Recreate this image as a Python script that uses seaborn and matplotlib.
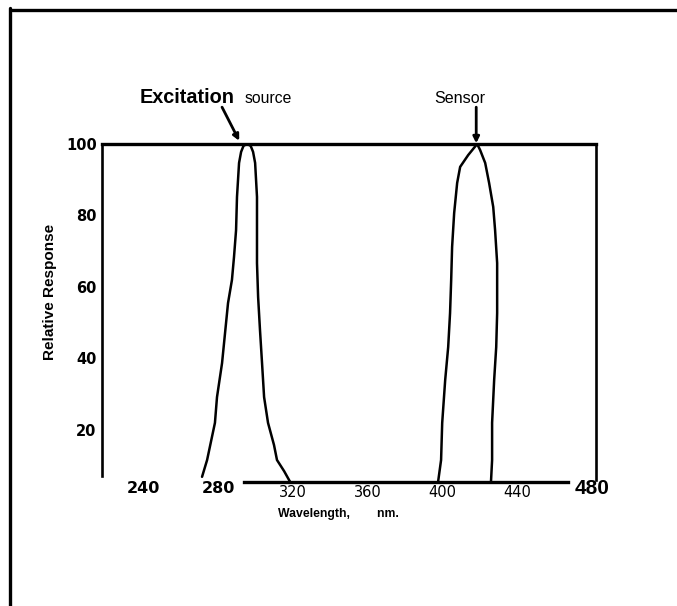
import matplotlib
matplotlib.use("Agg")
import matplotlib.pyplot as plt
from matplotlib.lines import Line2D
import seaborn as sns
import pandas as pd

# ---- data ----
exc_wavelength = [271.3, 274.0, 278.2, 279.3, 282.0, 285.2, 287.3, 288.4, 289.5, 290.0,
                  291.1, 292.2, 293.5, 295.4, 297.3, 298.6, 299.7, 300.7, 300.7, 301.3,
                  302.3, 303.4, 304.5, 306.6, 309.8, 311.4, 315.2, 318.4]
exc_response = [6.9, 11.6, 22.0, 29.2, 38.7, 55.5, 62.0, 68.4, 75.9, 85.2,
                94.7, 97.8, 99.5, 100.0, 99.5, 97.8, 94.7, 85.2, 66.7, 57.2,
                48.0, 38.7, 29.2, 22.0, 15.8, 11.6, 8.5, 5.5]

sens_wavelength = [397.6, 399.2, 399.8, 401.4, 403.0, 404.0, 404.6, 405.1, 406.2, 407.8,
                   409.4, 413.7, 418.5, 420.1, 422.8, 424.9, 427.1, 428.1, 429.2, 429.2,
                   428.7, 427.6, 426.5, 426.5, 425.9]
sens_response = [5.5, 11.6, 22.0, 34.0, 43.2, 52.7, 61.9, 71.2, 80.7, 89.1,
                 93.6, 96.9, 100.0, 98.3, 94.7, 89.1, 82.4, 75.9, 66.7, 52.7,
                 43.2, 34.0, 22.0, 11.6, 5.5]

x_ticks = [240, 280, 320, 360, 400, 440, 480]
x_tick_labels = ["240", "280", "320", "360", "400", "440", "480"]
y_ticks = [20, 40, 60, 80, 100]
y_tick_labels = ["20", "40", "60", "80", "100"]

exc_label = "Excitation"
exc_label2 = "source"
sens_label = "Sensor"
x_title = "Wavelength,        nm."
y_title = "Relative Response"

# ---- figure ----
sns.set_theme(style="white")
plt.rcParams["font.family"] = ["DejaVu Sans"]

fig = plt.figure(figsize=(6.77, 6.06), dpi=100)
ax = fig.add_axes([101.5 / 677, (606 - 482) / 606, 494.7 / 677, 338 / 606])

df_exc = pd.DataFrame({"wavelength": exc_wavelength, "response": exc_response})
df_sens = pd.DataFrame({"wavelength": sens_wavelength, "response": sens_response})

sns.lineplot(data=df_exc, x="wavelength", y="response", sort=False, estimator=None,
             color="black", lw=1.8, ax=ax)
sns.lineplot(data=df_sens, x="wavelength", y="response", sort=False, estimator=None,
             color="black", lw=1.8, ax=ax)

ax.set_xlim(217.5, 482.2)
ax.set_ylim(5.45, 100)

# spines like the hand-drawn frame
for side in ["top", "bottom", "left", "right"]:
    ax.spines[side].set_visible(True)
    ax.spines[side].set_color("black")
ax.spines["top"].set_linewidth(2.4)
ax.spines["left"].set_linewidth(1.9)
ax.spines["right"].set_linewidth(1.9)
ax.spines["bottom"].set_linewidth(2.4)
ax.spines["left"].set_bounds(7, 100)
ax.spines["right"].set_bounds(6, 100)
ax.spines["bottom"].set_bounds(294, 467)

# ticks
ax.set_xticks(x_ticks)
ax.set_xticklabels(x_tick_labels)
ax.set_yticks(y_ticks)
ax.set_yticklabels(y_tick_labels)
ax.tick_params(axis="x", direction="in", length=3.5, width=2, color="black", pad=2.5)
ax.tick_params(axis="y", direction="in", length=3, width=1.6, color="black", pad=3.5)

xt = ax.xaxis.get_major_ticks()
for tk, val in zip(xt, x_ticks):
    lab = tk.label1
    if val in (240, 280):
        lab.set_fontsize(11.5); lab.set_fontweight("bold")
        lab.set_fontfamily(["DejaVu Sans"])
        tk.tick1line.set_visible(False)
        tk.set_pad(-1)
    elif val == 480:
        lab.set_fontsize(15); lab.set_fontweight("bold")
        lab.set_fontfamily(["Liberation Sans", "DejaVu Sans"])
        tk.tick1line.set_visible(False)
        tk.set_pad(-2.5)
    else:
        lab.set_fontsize(10.5); lab.set_fontweight("normal")
        lab.set_fontfamily(["DejaVu Sans"])
    lab.set_color("black")

yt = ax.yaxis.get_major_ticks()
for tk, val in zip(yt, y_ticks):
    tk.label1.set_fontsize(10.5)
    tk.label1.set_fontweight("bold")
    tk.label1.set_color("black")
    if val == 100:
        tk.tick1line.set_visible(False)

ax.grid(False)

# axis titles
ax.set_xlabel(x_title, fontsize=8.8, fontweight="bold",
              family=["Liberation Sans", "DejaVu Sans"], color="black")
ax.xaxis.set_label_coords((338.5 - 101.5) / 494.7, (482 - 508) / 338)
ax.set_ylabel(y_title, fontsize=11, fontweight="bold",
              family=["Liberation Sans", "DejaVu Sans"], color="black")
ax.yaxis.set_label_coords((57 - 101.5) / 494.7, (482 - 292) / 338)

# annotations
lib = ["Liberation Sans", "DejaVu Sans"]
ax.text(238.1, 111.5, exc_label, fontsize=14.3, fontweight="bold", family=lib,
        ha="left", va="baseline", color="black", clip_on=False)
ax.text(293.8, 111.5, exc_label2, fontsize=11.3, family=lib,
        ha="left", va="baseline", color="black", clip_on=False)
ax.text(409.4, 111.5, sens_label, fontsize=11.6, family=lib,
        ha="center", va="baseline", color="black", clip_on=False)

arrow = dict(arrowstyle="-|>", color="black", lw=2, mutation_scale=9, shrinkA=0, shrinkB=0)
ax.annotate("", xy=(291.2, 100.9), xytext=(282.0, 110.3), xycoords="data",
            arrowprops=arrow, annotation_clip=False)
ax.annotate("", xy=(418.0, 100.2), xytext=(418.0, 110.3), xycoords="data",
            arrowprops=arrow, annotation_clip=False)

# scanned page frame (top and left border)
fig.add_artist(Line2D([12 / 677, 1.0], [1 - 9.5 / 606, 1 - 9.5 / 606],
                      transform=fig.transFigure, color="black", lw=2.4))
fig.add_artist(Line2D([9.5 / 677, 9.5 / 677], [0.0, 1 - 8 / 606],
                      transform=fig.transFigure, color="black", lw=2.4))

fig.savefig("out.png", dpi=100, facecolor="white")
